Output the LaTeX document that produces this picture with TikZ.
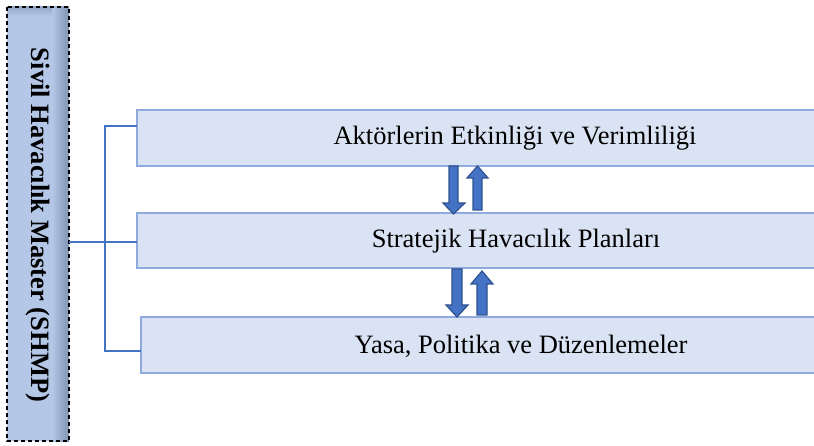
\documentclass[tikz,border=0pt]{standalone}
\usepackage{fontspec}
\setmainfont{Liberation Serif}
\definecolor{boxfill}{HTML}{DAE3F3}
\definecolor{boxline}{HTML}{8FAADC}
\definecolor{linkblue}{HTML}{4472C4}
\definecolor{arrowline}{HTML}{2F528F}
\definecolor{sidefill}{HTML}{B4C7E7}
\definecolor{sideshade}{HTML}{7F93B3}
\begin{document}
\begin{tikzpicture}[x=1pt,y=-1pt,
  level/.style={draw=boxline,line width=1.2pt,fill=boxfill},
  leveltext/.style={font=\fontsize{26.5}{30}\selectfont},
  bracketline/.style={draw=linkblue,line width=1.2pt},
  flow/.style={fill=linkblue,draw=arrowline,line width=1.2pt,line join=miter}]
\useasboundingbox (0,0) rectangle (814,446);
% side title bar with a soft shadow on its right edge
\fill[sidefill] (7,7) rectangle (69,441);
\shade[left color=sidefill,right color=sideshade] (52,7) rectangle (69,441);
\shade[top color=sideshade!60!sidefill,bottom color=sidefill] (7,7) rectangle (52,16);
\draw[dashed,line width=1.2pt,dash pattern=on 4pt off 3pt] (7,7) rectangle (69,441);
\node[rotate=-90,font=\bfseries\fontsize{26.5}{30}\selectfont] (title) at (38,225) {Sivil Havacılık Master (SHMP)};
\coordinate (bar) at (69,242);
% the three levels
\draw[level] (137,110) rectangle (816,166);
\node[leveltext] (lvA) at (515,138) {Aktörlerin Etkinliği ve Verimliliği};
\draw[level] (137,213) rectangle (816,268);
\node[leveltext] (lvB) at (516,241) {Stratejik Havacılık Planları};
\draw[level] (141,317) rectangle (816,373);
\node[leveltext] (lvC) at (521,346) {Yasa, Politika ve Düzenlemeler};
\coordinate (eA) at (137,126);
\coordinate (eB) at (137,242);
\coordinate (eC) at (141,351);
% bracket joining the title bar to the levels
\draw[bracketline] (eA) -- (105,126) -- (105,351) -- (eC);
\draw[bracketline] (bar) -- (eB);
% two-way arrows between the levels
\draw[flow] (449,166) -- (458,166) -- (458,203) -- (465,203) -- (453.5,214) -- (443,203) -- (449,203) -- cycle;
\draw[flow] (473,210) -- (482,210) -- (482,178) -- (488,178) -- (477.5,166) -- (467,178) -- (473,178) -- cycle;
\draw[flow] (452,269) -- (462,269) -- (462,305) -- (468,305) -- (457,317) -- (446,305) -- (452,305) -- cycle;
\draw[flow] (477,315) -- (487,315) -- (487,284) -- (493,284) -- (482,271) -- (471,284) -- (477,284) -- cycle;
\end{tikzpicture}
\end{document}
